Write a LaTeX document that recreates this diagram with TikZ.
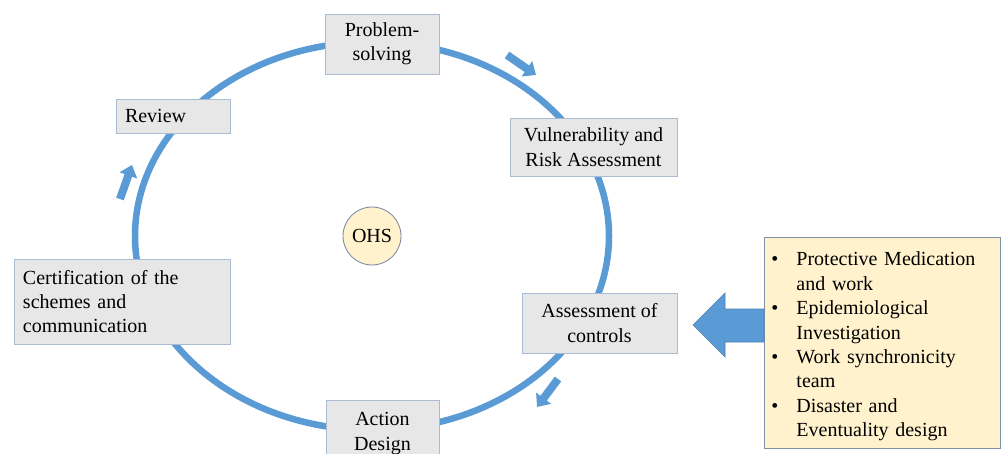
\documentclass[tikz,border=0pt]{standalone}
\usepackage{fontspec}
\setmainfont{Liberation Serif}
\usetikzlibrary{arrows.meta}
\definecolor{cycleblue}{HTML}{5B9BD5}
\definecolor{arrowedge}{HTML}{4A7FB5}
\definecolor{boxfill}{HTML}{E8E7E8}
\definecolor{boxedge}{HTML}{A8BCD4}
\definecolor{notefill}{HTML}{FFF2CC}
\definecolor{noteedge}{HTML}{8090A8}
\tikzset{
  stagebox/.style={draw=boxedge, fill=boxfill, line width=0.9pt, inner sep=0pt,
    align=center, font=\fontsize{20}{24.4}\selectfont},
  leftbox/.style={stagebox, align=left, inner xsep=9pt},
  cyclering/.style={draw=cycleblue, line width=6.5pt},
  flowarrow/.style={draw=cycleblue, line width=8pt,
    -{Triangle[width=18pt,length=11pt]}},
  hubnode/.style={circle, draw=noteedge, fill=notefill, line width=0.9pt,
    minimum size=58pt, inner sep=0pt, font=\fontsize{20}{24}\selectfont},
  notepanel/.style={draw=noteedge, fill=notefill, line width=0.9pt,
    anchor=north west, inner xsep=0pt, inner ysep=0pt, align=left,
    font=\fontsize{20}{24.4}\selectfont},
  bigarrow/.style={fill=cycleblue, draw=arrowedge, line width=0.6pt}
}
\newcommand\bulletline[1]{\makebox[29pt][l]{\hspace{4pt}\textbullet}#1}
\newcommand\contline[1]{\hspace*{29pt}#1}
\begin{document}
\begin{tikzpicture}[x=1pt,y=-1pt]
  \clip (0,0) rectangle (1003,454);
  \fill[white] (0,0) rectangle (1003,454);

  % the cycle
  \draw[cyclering] (372,236) ellipse [x radius=237, y radius=194];

  % centre
  \node[hubnode] (ohs) at (372,236) {OHS};

  % stages of the cycle
  \node[stagebox, minimum width=114pt, minimum height=60pt] (ps) at (382,44) {Problem-\\solving};
  \node[stagebox, minimum width=167pt, minimum height=58pt] (vra) at (593.5,147) {Vulnerability and\\Risk Assessment};
  \node[stagebox, minimum width=155pt, minimum height=60pt] (ac) at (599.5,323) {Assessment of\\controls};
  \node[stagebox, minimum width=113pt, minimum height=66pt, anchor=north] (ad) at (382.5,400) {Action\\Design};
  \node[leftbox, text width=198pt, minimum height=85pt] (cert) at (122,301.5) {Certification of the\\schemes and\\communication};
  \node[leftbox, text width=96pt, minimum height=34pt] (rev) at (173,116) {Review};

  % direction markers along the cycle
  \coordinate (m1a) at (507,55);  \coordinate (m1b) at (536,75);
  \coordinate (m2a) at (558,379); \coordinate (m2b) at (537,407);
  \coordinate (m3a) at (120,199); \coordinate (m3b) at (132,165);
  \draw[flowarrow] (m1a) -- (m1b);
  \draw[flowarrow] (m2a) -- (m2b);
  \draw[flowarrow] (m3a) -- (m3b);

  % measures panel
  \node[notepanel, minimum width=236pt, minimum height=211pt, text width=230pt] (panel) at (764,237)
    {\rule{0pt}{21pt}\bulletline{Protective Medication}\\
     \contline{and work}\\
     \bulletline{Epidemiological}\\
     \contline{Investigation}\\
     \bulletline{Work synchronicity}\\
     \contline{team}\\
     \bulletline{Disaster and}\\
     \contline{Eventuality design}};

  % arrow from the panel to the controls stage
  \draw[bigarrow] (panel.west |- 0,309) -- (725,309) -- (725,293) -- (693,325)
    -- (725,357) -- (725,342) -- (panel.west |- 0,342) -- cycle;
\end{tikzpicture}
\end{document}
